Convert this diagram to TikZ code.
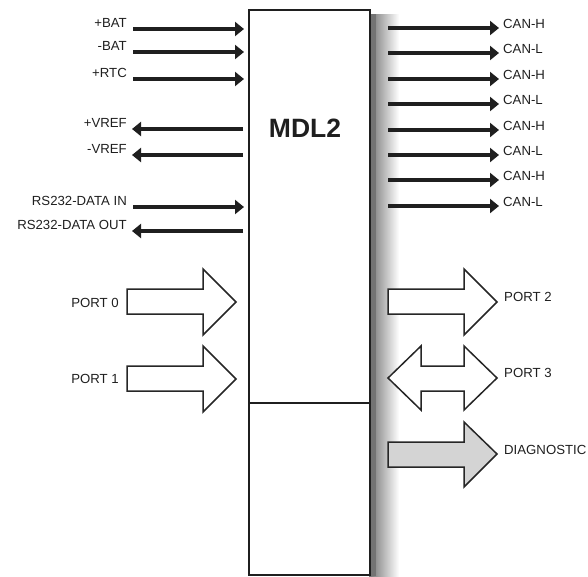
\documentclass[tikz,border=0pt]{standalone}
\usepackage{fontspec}
\setmainfont{Liberation Sans}
\usetikzlibrary{arrows.meta}
\begin{document}
\begin{tikzpicture}[x=1pt,y=-1pt,
  sig/.style={line width=3.2pt,draw=black!88,-{Triangle[length=9pt,width=14pt]}},
  lbl/.style={inner sep=0pt,font=\fontsize{13.2}{15}\selectfont,text=black!88},
  blk/.style={draw=black!85,line width=1.5pt,fill=white,line join=miter},
]
\useasboundingbox (0,0) rectangle (588,576);
% shadow
\shade[left color=black!55,right color=white] (369,14) rectangle (399,576);
\fill[black!55] (369,14) rectangle (376,576);
% box
\node[draw=black!88,line width=1.6pt,fill=white,minimum width=121pt,minimum height=565pt,inner sep=0pt,anchor=north west] (mdl) at (248,9) {};
\draw[black!88,line width=1.6pt] (248,403) coordinate (dl) -- (369,403) coordinate (dr);
\node[font=\fontsize{26.5}{28}\selectfont\bfseries,inner sep=0pt,text=black!88] (title) at (305,128) {MDL2};
% left inputs
\foreach \n/\y/\t in {a/29/+BAT,b/52/-BAT,c/79/+RTC,g/207/RS232-DATA IN}{
  \node[lbl,anchor=base east] (L\n) at (127,\y-1.5) {\t};
  \coordinate (Ls\n) at (133,\y);
  \coordinate (Le\n) at (244,\y);
  \draw[sig] (Ls\n) -- (Le\n);
}
\foreach \n/\y/\t in {d/129/+VREF,e/155/-VREF,h/231/RS232-DATA OUT}{
  \node[lbl,anchor=base east] (L\n) at (127,\y-1.5) {\t};
  \coordinate (Ls\n) at (243,\y);
  \coordinate (Le\n) at (132,\y);
  \draw[sig] (Ls\n) -- (Le\n);
}
% right outputs
\foreach \n/\y/\t in {1/28/CAN-H,2/53/CAN-L,3/79/CAN-H,4/104/CAN-L,5/130/CAN-H,6/155/CAN-L,7/180/CAN-H,8/206/CAN-L}{
  \node[lbl,anchor=base west] (R\n) at (503,\y) {\t};
  \coordinate (Rs\n) at (388,\y);
  \coordinate (Re\n) at (499,\y);
  \draw[sig] (Rs\n) -- (Re\n);
}
% port arrows left
\draw[blk] (127,289) -- (203,289) -- (203,269) -- (236,302) -- (203,335) -- (203,314) -- (127,314) -- cycle;
\node[lbl,anchor=base east] (p0) at (119,307.5) {PORT 0};
\draw[blk] (127,366) -- (203,366) -- (203,346) -- (236,379) -- (203,412) -- (203,391) -- (127,391) -- cycle;
\node[lbl,anchor=base east] (p1) at (119,383) {PORT 1};
% port arrows right
\draw[blk] (388,289) -- (464,289) -- (464,269) -- (497,302) -- (464,335) -- (464,314) -- (388,314) -- cycle;
\node[lbl,anchor=base west] (p2) at (504,301.5) {PORT 2};
\draw[blk] (388,378) -- (421,346) -- (421,366) -- (464,366) -- (464,346) -- (497,378) -- (464,410) -- (464,391) -- (421,391) -- (421,410) -- cycle;
\node[lbl,anchor=base west] (p3) at (504,377.5) {PORT 3};
\draw[blk,fill=black!17] (388,442) -- (464,442) -- (464,422) -- (497,454) -- (464,487) -- (464,467) -- (388,467) -- cycle;
\node[lbl,anchor=base west] (diag) at (504,454) {DIAGNOSTIC};
\end{tikzpicture}
\end{document}
